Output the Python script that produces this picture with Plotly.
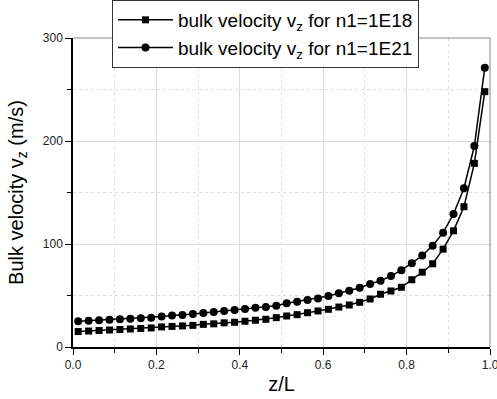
import plotly.graph_objects as go

z = [(i + 0.5) / 40 for i in range(40)]

v_1e18 = [15, 15.5, 16, 16.5, 17, 17.5, 18, 18.5, 19.5, 20, 20.5, 21, 22, 22.5, 23.5, 24, 25, 26,
          26.9, 28.5, 30.1, 31.4, 33.3, 35.0, 36.6, 38.8, 40.8, 43.4, 46.6, 51.2, 54.4, 58.0,
          65.3, 72.6, 80.8, 95.0, 112.8, 136.2, 178.3, 247.9]
v_1e21 = [25, 25.5, 26, 26.5, 27, 27.5, 28, 28.5, 29.5, 30.5, 31, 32, 33, 34, 35, 36, 37, 38,
          38.8, 40.1, 42.4, 44.0, 45.6, 47.2, 49.5, 52.1, 54.7, 57.6, 61.2, 64.4, 68.9, 74.6,
          81.4, 88.8, 98.4, 111.0, 129.1, 154.1, 195.1, 271.2]

names = ["bulk velocity v<sub>z</sub> for n1=1E18", "bulk velocity v<sub>z</sub> for n1=1E21"]

fig = go.Figure()
fig.add_trace(go.Scatter(x=z, y=v_1e18, mode="lines+markers", name=names[0],
                         line=dict(color="black", width=1.5),
                         marker=dict(symbol="square", size=7, color="black")))
fig.add_trace(go.Scatter(x=z, y=v_1e21, mode="lines+markers", name=names[1],
                         line=dict(color="black", width=1.5),
                         marker=dict(symbol="circle", size=8, color="black")))

axis_common = dict(
    showline=True, linecolor="black", linewidth=1.5, mirror=False,
    ticks="outside", ticklen=6, tickcolor="black", tickwidth=1,
    showgrid=True, gridcolor="#dcdcdc", gridwidth=1,
    tickfont=dict(family="Arial", size=12, color="#222"),
    zeroline=False, automargin=False, ticklabeloverflow="allow",
)

fig.update_xaxes(range=[0, 1], dtick=0.2, tick0=0, tickformat=".1f",
                 minor=dict(dtick=0.1, ticks="outside", ticklen=4, tickcolor="black",
                            showgrid=True, gridcolor="#dcdcdc", griddash="dot"),
                 title=dict(text="z/L", font=dict(family="Arial", size=20, color="black"), standoff=6),
                 **axis_common)
fig.update_yaxes(range=[0, 300], dtick=100, tick0=0,
                 minor=dict(dtick=50, ticks="outside", ticklen=4, tickcolor="black",
                            showgrid=True, gridcolor="#dcdcdc", griddash="dot"),
                 title=dict(text="Bulk velocity v<sub>z</sub> (m/s)",
                            font=dict(family="Arial", size=20, color="black"), standoff=14),
                 **axis_common)

fig.add_shape(type="line", xref="paper", yref="paper", x0=0, x1=1, y0=1, y1=1,
              line=dict(color="#888888", width=1))
fig.add_shape(type="line", xref="paper", yref="paper", x0=1, x1=1, y0=0, y1=1,
              line=dict(color="#888888", width=1))

fig.update_layout(
    width=497, height=399,
    margin=dict(l=73, r=7, t=38, b=52, autoexpand=False),
    paper_bgcolor="white", plot_bgcolor="white",
    legend=dict(x=0.0935, y=1.123, xanchor="left", yanchor="top",
                bgcolor="white", bordercolor="#333", borderwidth=1,
                font=dict(family="Arial", size=19, color="black"),
                itemwidth=55),
    showlegend=True,
)

fig.write_html("out.html", config={"displayModeBar": False},
               post_script="document.body.style.margin='0';")
